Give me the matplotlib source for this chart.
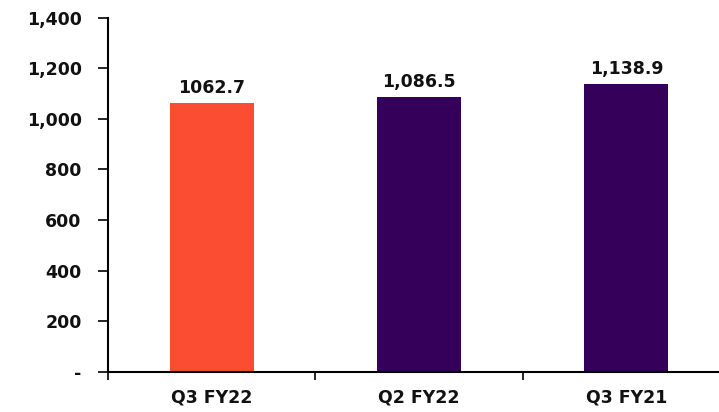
import matplotlib
matplotlib.use("Agg")
import matplotlib.pyplot as plt
from matplotlib.ticker import FixedLocator, FuncFormatter

categories = ["Q3 FY22", "Q2 FY22", "Q3 FY21"]
values = [1062.7, 1086.5, 1138.9]
value_labels = ["1062.7", "1,086.5", "1,138.9"]
colors = ["#FA4D32", "#35005A", "#35005A"]
yticks = [0, 200, 400, 600, 800, 1000, 1200, 1400]

plt.rcParams["font.family"] = ["DejaVu Sans"]
plt.rcParams["font.weight"] = "bold"

fig = plt.figure(figsize=(7.19, 4.12), dpi=100)
ax = fig.add_axes([108/719, 1-372/412, 622/719, (372-17.5)/412])

x = list(range(len(categories)))
bars = ax.bar(x, values, width=0.405, color=colors, zorder=2)
for xi, v, lab in zip(x, values, value_labels):
    ax.annotate(lab, (xi, v), xytext=(0, 4), textcoords="offset points",
                ha="center", va="bottom", fontsize=12.5, fontweight="bold", color="#111111")

ax.set_xlim(-0.5, 2.5)
ax.set_ylim(0, 1400)
ax.set_yticks(yticks)
ax.yaxis.set_major_formatter(FuncFormatter(lambda v, p: "-" if v == 0 else f"{int(v):,}"))
ax.xaxis.set_major_locator(FixedLocator([-0.5, 0.5, 1.5, 2.5]))
ax.xaxis.set_minor_locator(FixedLocator(x))
ax.set_xticklabels([])
ax.set_xticklabels(categories, minor=True)
ax.tick_params(axis="x", which="minor", length=0, pad=12, labelsize=12.5, colors="#111111")
ax.tick_params(axis="x", which="major", length=6, width=1.2, direction="out")
ax.tick_params(axis="y", length=7, width=1.2, direction="out", pad=12, labelsize=12.5, labelcolor="#111111")
for lab in ax.get_yticklabels() + ax.get_xticklabels(minor=True):
    lab.set_fontweight("bold")

for s in ["top", "right"]:
    ax.spines[s].set_visible(False)
for s in ["left", "bottom"]:
    ax.spines[s].set_linewidth(1.5)
    ax.spines[s].set_color("black")

fig.savefig("out.png", dpi=100)
